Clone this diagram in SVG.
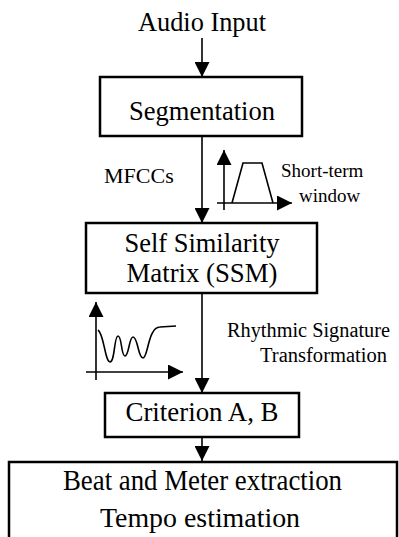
<svg xmlns="http://www.w3.org/2000/svg" width="399" height="537" viewBox="0 0 399 537">
<defs>
<marker id="ah" viewBox="0 0 16 16" refX="16" refY="8" markerWidth="15" markerHeight="15" markerUnits="userSpaceOnUse" orient="auto">
<path d="M0,0 L16,8 L0,16 Z" fill="#000"/>
</marker>
</defs>
<style>
.box{fill:#fff;stroke:#000;stroke-width:2.5}
text{font-family:'Liberation Serif','Times New Roman',serif;fill:#000;text-anchor:middle}
.big{font-size:26.5px}
.lbl{font-size:20.5px;text-anchor:start}
.ln{stroke:#000;stroke-width:1.6;fill:none}
</style>
<rect width="399" height="537" fill="#fff"/>
<g id="connectors">
<line class="ln" x1="202" y1="38" x2="202" y2="77" marker-end="url(#ah)"/>
<line class="ln" x1="202" y1="136" x2="202" y2="223" marker-end="url(#ah)"/>
<line class="ln" x1="202" y1="293" x2="202" y2="393" marker-end="url(#ah)"/>
<line class="ln" x1="202" y1="437" x2="202" y2="461" marker-end="url(#ah)"/>
</g>
<g id="audio-input">
<text class="big" x="202" y="31" textLength="128" lengthAdjust="spacingAndGlyphs">Audio Input</text>
</g>
<g id="segmentation">
<rect class="box" x="100" y="77" width="202" height="59"/>
<text class="big" x="202" y="120" textLength="146" lengthAdjust="spacingAndGlyphs">Segmentation</text>
</g>
<g id="mfccs-label">
<text style="font-size:22px;text-anchor:start" x="104" y="183">MFCCs</text>
</g>
<g id="short-term-window">
<line class="ln" x1="224" y1="210" x2="224" y2="150" marker-end="url(#ah)"/>
<line class="ln" x1="217" y1="203" x2="292" y2="203" marker-end="url(#ah)"/>
<polyline class="ln" points="232,203 243,163 262,163 273,203"/>
<text class="lbl" style="font-size:19px" x="281" y="177">Short-term</text>
<text class="lbl" style="font-size:19px" x="299" y="202">window</text>
</g>
<g id="ssm">
<rect class="box" x="86" y="223" width="231" height="70"/>
<text class="big" x="202" y="252" textLength="155" lengthAdjust="spacingAndGlyphs">Self Similarity</text>
<text class="big" x="202" y="282" textLength="151" lengthAdjust="spacingAndGlyphs">Matrix (SSM)</text>
</g>
<g id="rhythm-icon">
<line class="ln" x1="96" y1="380" x2="96" y2="302" marker-end="url(#ah)"/>
<line class="ln" x1="86" y1="372" x2="183" y2="372" marker-end="url(#ah)"/>
<path class="ln" d="M98,330 C104,334 105,362 110,362 C115,362 114,336 118,336 C122,336 121,356 125,356 C129,356 129,337 133,337 C138,337 138,358 143,358 C148,358 148,327 160,327 L176,326"/>
<text class="lbl" x="227" y="337" textLength="163" lengthAdjust="spacingAndGlyphs">Rhythmic Signature</text>
<text class="lbl" x="260" y="362" textLength="127" lengthAdjust="spacingAndGlyphs">Transformation</text>
</g>
<g id="criterion">
<rect class="box" x="105" y="393" width="194" height="44"/>
<text class="big" x="202" y="421" textLength="153" lengthAdjust="spacingAndGlyphs">Criterion A, B</text>
</g>
<g id="beat-meter">
<rect class="box" x="9" y="462" width="388" height="90"/>
<text style="font-size:28.5px" x="202.5" y="490" textLength="279" lengthAdjust="spacingAndGlyphs">Beat and Meter extraction</text>
<text style="font-size:28px" x="200" y="527" textLength="200" lengthAdjust="spacingAndGlyphs">Tempo estimation</text>
</g>
</svg>
